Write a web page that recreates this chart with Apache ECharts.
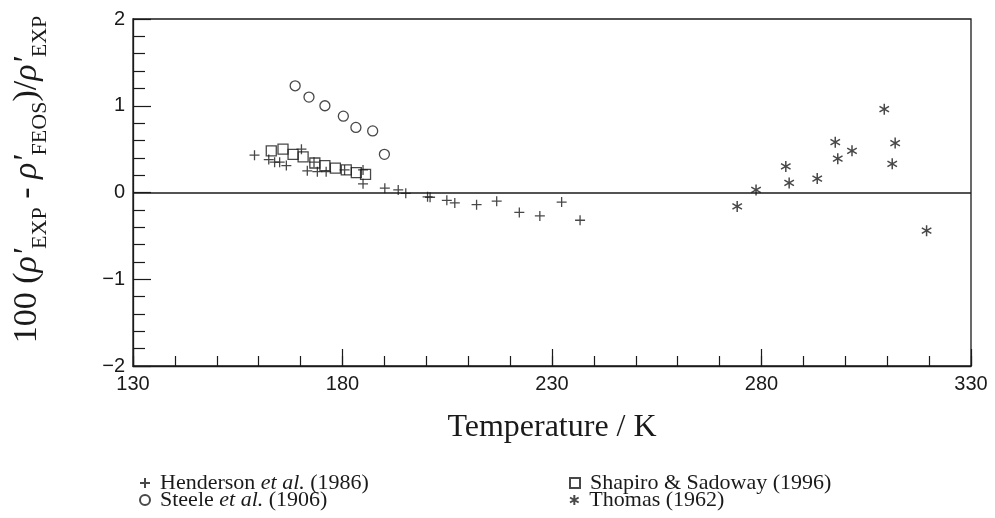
<!DOCTYPE html>
<html>
<head>
<meta charset="utf-8">
<script src="https://cdn.jsdelivr.net/npm/echarts@6/dist/echarts.min.js"></script>
<style>
  html, body { margin: 0; padding: 0; background: #fff; }
  #chart { width: 995px; height: 518px; }
</style>
</head>
<body>
<div id="chart"></div>
<script>
// Henderson et al. (1986): temperature (K) and deviation (%)
const hendersonT   = [159.0, 162.4, 163.8, 165.0, 166.6, 170.2, 171.6, 173.2, 174.0, 176.1, 180.5, 184.9, 184.9, 190.1, 193.3, 195.1, 200.3, 200.9, 204.9, 206.8, 212.0, 216.8, 222.2, 227.1, 232.3, 236.7];
const hendersonDev = [0.43, 0.38, 0.35, 0.35, 0.31, 0.50, 0.25, 0.35, 0.24, 0.24, 0.26, 0.26, 0.10, 0.05, 0.03, -0.01, -0.05, -0.055, -0.09, -0.12, -0.14, -0.10, -0.23, -0.27, -0.11, -0.32];

// Steele et al. (1906)
const steeleT   = [168.7, 172.0, 175.8, 180.2, 183.2, 187.2, 190.0];
const steeleDev = [1.23, 1.10, 1.00, 0.88, 0.75, 0.71, 0.44];

// Shapiro & Sadoway (1996)
const shapiroT   = [163.0, 165.8, 168.2, 170.6, 173.4, 175.8, 178.3, 180.9, 183.3, 185.5];
const shapiroDev = [0.48, 0.50, 0.44, 0.41, 0.34, 0.31, 0.28, 0.26, 0.23, 0.21];

// Thomas (1962)
const thomasT   = [274.2, 278.7, 285.8, 286.6, 293.3, 297.6, 298.2, 301.6, 309.3, 311.9, 311.2, 319.4];
const thomasDev = [-0.16, 0.03, 0.30, 0.11, 0.16, 0.58, 0.39, 0.48, 0.96, 0.57, 0.33, -0.44];

// Axis ranges and labelled ticks
const xMin = 130, xMax = 330, xMinorStep = 10;
const xTickLabels = [130, 180, 230, 280, 330];
const yMin = -2, yMax = 2, yStep = 1;

// Legend entries (series name -> rich label)
const legendNames = ['Henderson', 'Steele', 'Shapiro & Sadoway (1996)', 'Thomas (1962)'];
const legendLabels = [
  '{n|Henderson }{i|et al.}{n| (1986)}',
  '{n|Steele }{i|et al.}{n| (1906)}',
  '{n|Shapiro & Sadoway (1996)}',
  '{n|Thomas (1962)}'
];

const SERIF = 'Liberation Serif';
const SANS = 'Liberation Sans';
const INK = '#1a1a1a';

const pairs = (xs, ys) => xs.map((x, i) => [x, ys[i]]);

const plusPath = 'path://M0,5L10,5M5,0L5,10';
const starPath = 'path://M5,0L5,10M0.67,2.5L9.33,7.5M0.67,7.5L9.33,2.5';

const strokeStyle = { color: 'rgba(0,0,0,0)', borderColor: INK, borderWidth: 1.3 };

const legendRich = {
  n: { fontFamily: SERIF, fontSize: 22, color: INK, lineHeight: 17 },
  i: { fontFamily: SERIF, fontSize: 22, fontStyle: 'italic', color: INK, lineHeight: 17 }
};

// Two columns, two rows of legend entries
const legendSlots = [
  { left: 139, top: 472 }, { left: 139, top: 489 },
  { left: 569, top: 472 }, { left: 569, top: 489 }
];
const legends = legendNames.map((name, i) => ({
  left: legendSlots[i].left, top: legendSlots[i].top,
  padding: 0, itemGap: 0, itemWidth: 10, itemHeight: 10,
  data: [name],
  formatter: () => legendLabels[i],
  textStyle: { lineHeight: 17, padding: [0, 0, 0, 5], rich: legendRich }
}));

const chart = echarts.init(document.getElementById('chart'), null, { renderer: 'canvas' });

chart.setOption({
  animation: false,
  backgroundColor: '#fff',
  grid: {
    left: 133, right: 24, top: 19, bottom: 152,
    show: true, borderColor: INK, borderWidth: 1.3, backgroundColor: 'transparent'
  },
  xAxis: [
    {
      type: 'value', min: xMin, max: xMax, interval: xMinorStep,
      position: 'bottom',
      axisLine: { show: true, onZero: false, lineStyle: { color: INK, width: 1.3 } },
      axisTick: { show: true, inside: true, length: 10, lineStyle: { color: INK, width: 1.2 } },
      axisLabel: {
        show: true, customValues: xTickLabels, margin: 8,
        fontFamily: SANS, fontSize: 20, color: INK
      },
      splitLine: { show: false },
      name: 'Temperature / K', nameLocation: 'middle', nameGap: 46,
      nameTextStyle: { fontFamily: SERIF, fontSize: 32, color: INK }
    },
    {
      type: 'value', min: xMin, max: xMax,
      position: 'bottom',
      axisLine: { show: false, onZero: false },
      axisTick: { show: true, inside: true, length: 17, customValues: xTickLabels, lineStyle: { color: INK, width: 1.2 } },
      axisLabel: { show: false },
      splitLine: { show: false }
    }
  ],
  yAxis: {
    type: 'value', min: yMin, max: yMax, interval: yStep,
    axisLine: { show: true, onZero: false, lineStyle: { color: INK, width: 1.3 } },
    axisTick: { show: true, inside: true, length: 18, lineStyle: { color: INK, width: 1.2 } },
    minorTick: { show: true, splitNumber: 5, length: 12, lineStyle: { color: INK, width: 1.2 } },
    axisLabel: {
      margin: 8, fontFamily: SANS, fontSize: 20, color: INK,
      formatter: v => (v < 0 ? '\u2212' + Math.abs(v) : String(v))
    },
    splitLine: { show: false },
    name: '{n|100 (}{g|\u03C1\'}{s|EXP}{n| - }{g|\u03C1\'}{s|FEOS}{n|)/}{g|\u03C1\'}{s|EXP}',
    nameLocation: 'middle', nameRotate: 90, nameGap: 82,
    nameTextStyle: {
      color: INK,
      padding: [0, 0, 0, 26],
      rich: {
        n: { fontFamily: SERIF, fontSize: 34, color: INK, verticalAlign: 'bottom', padding: [0, 0, 7, 0] },
        g: { fontFamily: SERIF, fontSize: 34, fontStyle: 'italic', color: INK, verticalAlign: 'bottom', padding: [0, 0, 7, 0] },
        s: { fontFamily: SERIF, fontSize: 22, color: INK, verticalAlign: 'bottom' }
      }
    }
  },
  legend: legends,
  series: [
    {
      name: 'Henderson', type: 'scatter',
      data: pairs(hendersonT, hendersonDev),
      symbol: plusPath, symbolSize: 10, symbolKeepAspect: true,
      itemStyle: strokeStyle,
      markLine: {
        silent: true, symbol: ['none', 'none'], label: { show: false },
        lineStyle: { color: INK, width: 1.5, type: 'solid' },
        data: [{ yAxis: 0 }]
      }
    },
    {
      name: 'Steele', type: 'scatter',
      data: pairs(steeleT, steeleDev),
      symbol: 'circle', symbolSize: 10,
      itemStyle: strokeStyle
    },
    {
      name: 'Shapiro & Sadoway (1996)', type: 'scatter',
      data: pairs(shapiroT, shapiroDev),
      symbol: 'rect', symbolSize: 10,
      itemStyle: strokeStyle
    },
    {
      name: 'Thomas (1962)', type: 'scatter',
      data: pairs(thomasT, thomasDev),
      symbol: starPath, symbolSize: 11, symbolKeepAspect: true,
      itemStyle: { color: 'rgba(0,0,0,0)', borderColor: INK, borderWidth: 1.5 }
    }
  ]
});
</script>
</body>
</html>
